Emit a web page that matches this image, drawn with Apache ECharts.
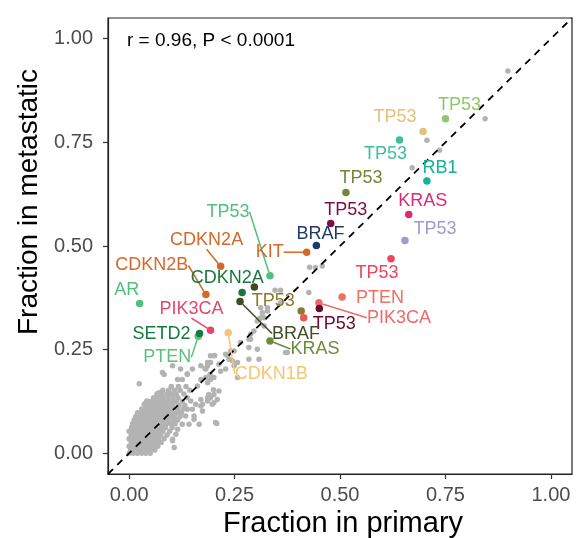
<!DOCTYPE html>
<html>
<head>
<meta charset="utf-8">
<script src="https://cdn.jsdelivr.net/npm/echarts@6/dist/echarts.min.js"></script>
<style>
html,body{margin:0;padding:0;background:#fff}
#chart{width:583px;height:538px}
</style>
</head>
<body>
<div id="chart"></div>
<script>
// 标注的基因（颜色点）
var genes = ['TP53','TP53','TP53','RB1','TP53','TP53','BRAF','KRAS','TP53','TP53','PTEN','PIK3CA','TP53','TP53','','TP53','CDKN2A','KIT','CDKN2B','CDKN2A','','BRAF','AR','PIK3CA','PTEN','SETD2','CDKN1B','KRAS'];
var primary = [0.750,0.697,0.641,0.706,0.514,0.478,0.444,0.663,0.654,0.621,0.505,0.450,0.451,0.408,0.414,0.334,0.217,0.421,0.182,0.268,0.297,0.263,0.025,0.193,0.164,0.167,0.235,0.334];
var metastatic = [0.807,0.776,0.756,0.657,0.629,0.554,0.501,0.576,0.513,0.469,0.377,0.363,0.349,0.343,0.327,0.428,0.451,0.485,0.383,0.388,0.401,0.366,0.361,0.297,0.282,0.289,0.291,0.271];
var colors = ['#8dc96a','#e3c277','#3dbf9d','#13b39a','#6f8a37','#7c0f45','#1f3a68','#d92a75','#9d9ccc','#e8475f','#f07060','#ee6b6b','#6b0a2e','#8c7a2a','#ea5a52','#52bf7c','#d4692a','#d4692a','#d4692a','#16783f','#3d4a1e','#3f4d22','#52bf7c','#e8456a','#5cbf7c','#147a42','#f8c473','#6e8b3d'];
// 标签相对点的偏移(px) 和 是否画引线
var labelShift = [[14,-14],[-28,-15],[-14,14],[13,-13],[15,-14],[15,-14],[4,-12],[14,-13],[30,-12],[-14,14],[38,1],[80,15],[15,15],[-28,-10],[0,0],[-42,-64],[-14,-26],[-37,0],[-54,-29],[-15,-14],[0,0],[56,32],[-13,-14],[-19,-21],[-31,21],[-38,1],[43,41],[45,8]];
var leader = [0,0,0,0,0,0,0,0,0,0,0,1,0,0,0,1,1,1,1,0,0,1,0,1,1,0,1,1];

// 其它基因（灰点）
var grayPoints = [
  [0.898,0.922],[0.844,0.807],[0.706,0.755],[0.736,0.731],[0.671,0.689],
  [0.428,0.449],[0.442,0.448],[0.458,0.452],[0.346,0.393],[0.359,0.393],[0.426,0.388],
  [0.312,0.351],[0.328,0.351],[0.359,0.363],[0.304,0.319],[0.320,0.307],[0.312,0.327],
  [0.316,0.339],[0.328,0.343],[0.308,0.323],[0.320,0.327],[0.296,0.295],[0.288,0.287],
  [0.288,0.275],[0.284,0.275],[0.304,0.251],[0.264,0.267],[0.284,0.255],[0.308,0.227],
  [0.284,0.227],[0.371,0.243],[0.375,0.243],[0.249,0.247],[0.241,0.247],[0.229,0.239],
  [0.237,0.227],[0.257,0.219],[0.249,0.211],[0.257,0.183],[0.233,0.236],[0.245,0.223],
  [0.229,0.203],[0.217,0.198],[0.201,0.235],[0.193,0.235],[0.203,0.236],[0.186,0.219],
  [0.180,0.204],[0.193,0.219],[0.182,0.203],[0.186,0.211],[0.170,0.211],[0.150,0.203],
  [0.138,0.192],[0.126,0.178],[0.115,0.178],[0.122,0.203],[0.103,0.211],[0.083,0.190],
  [0.079,0.195],[0.024,0.168],[0.138,0.190],[0.170,0.178],[0.162,0.162],[0.186,0.170],
  [0.182,0.183],[0.192,0.190],[0.201,0.183],[0.193,0.178],[0.213,0.215],[0.213,0.150],
  [0.201,0.142],[0.193,0.134],[0.186,0.126],[0.170,0.130],[0.158,0.118],[0.146,0.126],
  [0.150,0.106],[0.138,0.106],[0.134,0.090],[0.154,0.090],[0.142,0.070],[0.208,0.072],
  [0.166,0.070],[0.126,0.070],[0.115,0.058],[0.111,0.046],[0.103,0.034],[0.042,0.126],
  [0.036,0.118],[0.186,0.134],[0.170,0.114],[0.197,0.118],[0.209,0.130],[0.205,0.074],
  [0.154,0.082],[0.103,0.030],[0.107,0.014],[0.071,0.146],[0.040,0.122],[0.059,0.010],
  [0.201,0.122],[0.174,0.118],[0.174,0.102],[0.189,0.142],[0.200,0.153]
];
// 原点附近的密集区：每行 [y, x值...]
var clusterRows = [
  [0.000, 0,0.01,0.02,0.03,0.04,0.05],
  [0.008, 0.004,0.014,0.024,0.034,0.044,0.054,0.061],
  [0.017, 0,0.01,0.02,0.03,0.04,0.05,0.06,0.068],
  [0.026, 0.005,0.015,0.025,0.035,0.045,0.055,0.065,0.076],
  [0.035, 0,0.01,0.02,0.03,0.04,0.05,0.06,0.07,0.083],
  [0.044, 0.005,0.015,0.025,0.035,0.045,0.055,0.065,0.075,0.09],
  [0.053, 0,0.01,0.02,0.03,0.04,0.05,0.06,0.07,0.08,0.096],
  [0.062, 0.006,0.016,0.026,0.036,0.046,0.056,0.066,0.076,0.086,0.102],
  [0.071, 0.008,0.018,0.028,0.038,0.048,0.058,0.068,0.078,0.088,0.098,0.109],
  [0.080, 0.012,0.022,0.032,0.042,0.052,0.062,0.072,0.082,0.092,0.104,0.115],
  [0.089, 0.016,0.026,0.036,0.046,0.056,0.066,0.076,0.086,0.096,0.108,0.121],
  [0.098, 0.02,0.03,0.04,0.05,0.06,0.07,0.08,0.09,0.10,0.112,0.124],
  [0.107, 0.03,0.04,0.05,0.06,0.07,0.08,0.09,0.10,0.115,0.128],
  [0.116, 0.042,0.052,0.062,0.072,0.082,0.092,0.104,0.118,0.132],
  [0.125, 0.05,0.06,0.07,0.08,0.09,0.10,0.112,0.126],
  [0.134, 0.058,0.07,0.08,0.092,0.104,0.116,0.138],
  [0.143, 0.066,0.078,0.09,0.1,0.112,0.13],
  [0.152, 0.08,0.094,0.108,0.121,0.144],
  [0.161, 0.1,0.117,0.135]
];
var ticks = [0, 0.25, 0.5, 0.75, 1];
var axisRange = [-0.05, 1.05];
var diag = [[-0.05,-0.05],[1.05,1.05]];

var FONT = 'Liberation Sans, Arial, Helvetica, sans-serif';

(function(){
  var myChart = echarts.init(document.getElementById('chart'));
  var gray = grayPoints.slice();
  clusterRows.forEach(function(row){
    for (var i = 1; i < row.length; i++) gray.push([row[i], row[0]]);
  });

  var hits = genes.map(function(g, i){
    return {
      value: [primary[i], metastatic[i]],
      itemStyle: { color: colors[i] },
      label: { show: g !== '', formatter: g, color: colors[i] },
      labelLine: { show: leader[i] === 1, lineStyle: { color: colors[i], width: 1.5 } }
    };
  });

  var axisCommon = {
    type: 'value',
    min: axisRange[0],
    max: axisRange[1],
    nameLocation: 'middle',
    splitLine: { show: false },
    axisLine: { show: true, onZero: false, lineStyle: { color: '#222', width: 1.2 } },
    axisTick: { show: true, customValues: ticks, length: 5, lineStyle: { color: '#333', width: 1.2 } },
    axisLabel: {
      customValues: ticks,
      fontSize: 20, color: '#4d4d4d', fontFamily: FONT,
      formatter: function(v){ return v.toFixed(2); }
    }
  };

  var option = {
    animation: false,
    textStyle: { fontFamily: FONT },
    title: {
      text: 'r = 0.96, P < 0.0001', left: 127, top: 31, padding: 0,
      textStyle: { fontSize: 19, fontWeight: 'normal', color: '#000', fontFamily: FONT }
    },
    grid: {
      left: 108, top: 18, width: 464, height: 456,
      show: true, borderColor: '#222', borderWidth: 1.2,
      outerBoundsMode: 'none'
    },
    xAxis: Object.assign({}, axisCommon, {
      name: 'Fraction in primary', nameGap: 32,
      nameTextStyle: { fontSize: 29, color: '#000', fontFamily: FONT, padding: [0, 0, 0, 6] },
      axisLabel: Object.assign({}, axisCommon.axisLabel, { margin: 11 })
    }),
    yAxis: Object.assign({}, axisCommon, {
      name: 'Fraction in metastatic', nameGap: 45,
      nameTextStyle: { fontSize: 28, color: '#000', fontFamily: FONT, padding: [0, 0, 0, 88] },
      axisLabel: Object.assign({}, axisCommon.axisLabel, { margin: 15 })
    }),
    series: [
      {
        type: 'scatter', silent: true, symbolSize: 5.5,
        itemStyle: { color: '#b3b3b3', opacity: 1 },
        data: gray, z: 1
      },
      {
        type: 'line', silent: true, data: diag, symbol: 'none', z: 2,
        lineStyle: { color: '#000', width: 1.8, type: [7, 6] }
      },
      {
        type: 'scatter', symbolSize: 7.5, z: 3,
        itemStyle: { opacity: 1 },
        label: { position: 'inside', fontSize: 18, fontFamily: FONT, padding: [2, 3] },
        labelLayout: function(p){
          return { dx: labelShift[p.dataIndex][0], dy: labelShift[p.dataIndex][1] };
        },
        data: hits
      }
    ]
  };
  myChart.setOption(option);
})();
</script>
</body>
</html>
